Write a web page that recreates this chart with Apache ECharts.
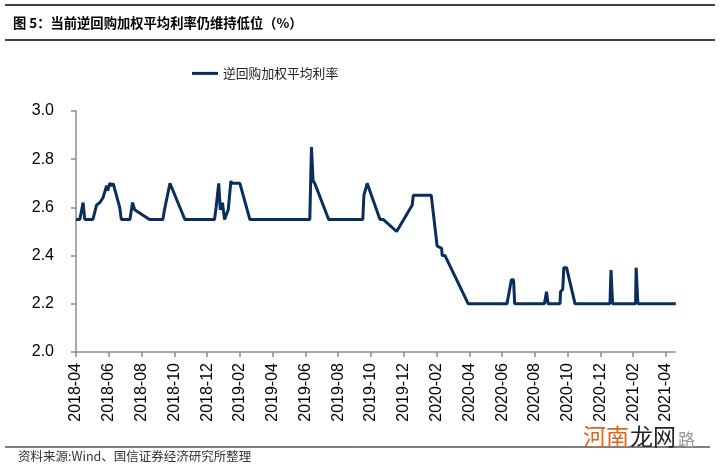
<!DOCTYPE html>
<html>
<head>
<meta charset="utf-8">
<script src="https://cdn.jsdelivr.net/npm/echarts@6/dist/echarts.min.js"></script>
<style>
  html, body { margin: 0; padding: 0; background: #fff; }
  #chart { width: 720px; height: 473px; }
</style>
</head>
<body>
<div id="chart"></div>
<script>
  // 逆回购加权平均利率（%）
  var dates = [
    '2018-04-01', '2018-04-08', '2018-04-14', '2018-04-17', '2018-05-02', '2018-05-09',
    '2018-05-15', '2018-05-21', '2018-05-28', '2018-05-30', '2018-06-03', '2018-06-07',
    '2018-06-09', '2018-06-21', '2018-06-24', '2018-07-10', '2018-07-15', '2018-07-19',
    '2018-08-16', '2018-09-10', '2018-09-13', '2018-09-23', '2018-10-21', '2018-12-15',
    '2018-12-18', '2018-12-23', '2018-12-26', '2018-12-30', '2019-01-03', '2019-01-10',
    '2019-01-15', '2019-01-16', '2019-02-01', '2019-02-18', '2019-06-09', '2019-06-12',
    '2019-06-15', '2019-06-18', '2019-07-14', '2019-09-16', '2019-09-18', '2019-09-24',
    '2019-10-18', '2019-10-24', '2019-11-18', '2019-12-17', '2019-12-19', '2020-01-22',
    '2020-02-02', '2020-02-10', '2020-02-11', '2020-02-16', '2020-03-30', '2020-06-10',
    '2020-06-18', '2020-06-22', '2020-06-24', '2020-08-19', '2020-08-23', '2020-08-26',
    '2020-09-17', '2020-09-18', '2020-09-22', '2020-09-24', '2020-09-29', '2020-10-15',
    '2020-12-19', '2020-12-21', '2020-12-24', '2021-02-05', '2021-02-06', '2021-02-09',
    '2021-04-19'
  ]
  var rates = [
    2.55, 2.55, 2.62, 2.55, 2.55, 2.61,
    2.62, 2.64, 2.69, 2.67, 2.70, 2.69,
    2.70, 2.60, 2.55, 2.55, 2.62, 2.59,
    2.55, 2.55, 2.59, 2.70, 2.55, 2.55,
    2.60, 2.70, 2.59, 2.62, 2.55, 2.59,
    2.71, 2.70, 2.70, 2.55, 2.55, 2.85,
    2.71, 2.70, 2.55, 2.55, 2.65, 2.70,
    2.55, 2.55, 2.50, 2.61, 2.65, 2.65,
    2.44, 2.43, 2.40, 2.40, 2.20, 2.20,
    2.30, 2.30, 2.20, 2.20, 2.25, 2.20,
    2.20, 2.25, 2.26, 2.35, 2.35, 2.20,
    2.20, 2.34, 2.20, 2.20, 2.35, 2.20,
    2.20
  ]
  var tickLabels = [
    '2018-04', '2018-06', '2018-08', '2018-10', '2018-12', '2019-02', '2019-04',
    '2019-06', '2019-08', '2019-10', '2019-12', '2020-02', '2020-04', '2020-06',
    '2020-08', '2020-10', '2020-12', '2021-02', '2021-04'
  ]

  // 把日期换成从 2018-04 起算的月份位置, 使每月在轴上等宽
  function monthPos (s) {
    var p = s.split('-')
    var y = +p[0], m = +p[1], d = +p[2]
    var days = new Date(y, m, 0).getDate()
    return (y - 2018) * 12 + (m - 4) + (d - 1) / days
  }

  var seriesData = dates.map(function (d, i) {
    return [monthPos(d), rates[i]]
  })
  var tickPos = tickLabels.map(function (t, i) { return i * 2 })

  var axisColor = '#8c8c8c'
  var option = {
    animation: false,
    backgroundColor: '#fff',
    textStyle: { fontFamily: 'Arial, "Liberation Sans", "Noto Sans CJK SC"' },
    grid: { left: 76, right: 45, top: 111, bottom: 121 },
    legend: {
      left: 187,
      top: 62,
      icon: 'rect',
      itemWidth: 26,
      itemHeight: 3,
      itemGap: 10,
      textStyle: { fontSize: 12.8, color: '#222', fontFamily: '"Noto Sans CJK SC"' },
      data: ['逆回购加权平均利率']
    },
    xAxis: {
      type: 'value',
      min: 0,
      max: 36.55,
      axisLine: { lineStyle: { color: axisColor, width: 1.5 } },
      axisTick: { length: 5, customValues: tickPos, lineStyle: { color: axisColor, width: 1.5 } },
      axisLabel: {
        customValues: tickPos,
        rotate: 90,
        margin: 11,
        fontSize: 16,
        color: '#000',
        formatter: function (v) { return tickLabels[Math.round(v / 2)] }
      },
      splitLine: { show: false }
    },
    yAxis: {
      type: 'value',
      min: 2.0,
      max: 3.0,
      interval: 0.2,
      axisLine: { show: true, lineStyle: { color: axisColor, width: 1.5 } },
      axisTick: { show: true, length: 5, lineStyle: { color: axisColor, width: 1.5 } },
      axisLabel: {
        margin: 22,
        fontSize: 16,
        color: '#000',
        formatter: function (v) { return v.toFixed(1) }
      },
      splitLine: { show: false }
    },
    series: [
      {
        name: '逆回购加权平均利率',
        type: 'line',
        symbol: 'none',
        data: seriesData,
        lineStyle: { color: '#0b2d5c', width: 3 },
        itemStyle: { color: '#0b2d5c' }
      }
    ],
    graphic: [
      { type: 'line', shape: { x1: 5, y1: 5, x2: 715, y2: 5 }, style: { stroke: '#000', lineWidth: 1.5 } },
      {
        type: 'text', left: 13, top: 16,
        style: { text: '图 5：当前逆回购加权平均利率仍维持低位（%）', font: 'bold 13.3px "Noto Sans CJK SC"', fill: '#000' }
      },
      { type: 'line', shape: { x1: 5, y1: 40, x2: 715, y2: 40 }, style: { stroke: '#000', lineWidth: 1.5 } },
      { type: 'line', shape: { x1: 5, y1: 447, x2: 710, y2: 447 }, style: { stroke: '#000', lineWidth: 1 } },
      {
        type: 'text', left: 18, top: 450,
        style: { text: '资料来源:Wind、国信证券经济研究所整理', font: '12.5px "Noto Sans CJK SC"', fill: '#333' }
      },
      {
        type: 'text', left: 583, top: 425,
        style: { text: '河南', font: '23px "Noto Sans CJK SC"', fill: '#e0641e' }
      },
      {
        type: 'text', left: 630, top: 425,
        style: { text: '龙网', font: '23px "Noto Sans CJK SC"', fill: '#222' }
      },
      {
        type: 'text', left: 678, top: 431,
        style: { text: '路', font: '17px "Noto Sans CJK SC"', fill: '#999' }
      }
    ]
  }

  var chart = echarts.init(document.getElementById('chart'))
  chart.setOption(option)
</script>
</body>
</html>
